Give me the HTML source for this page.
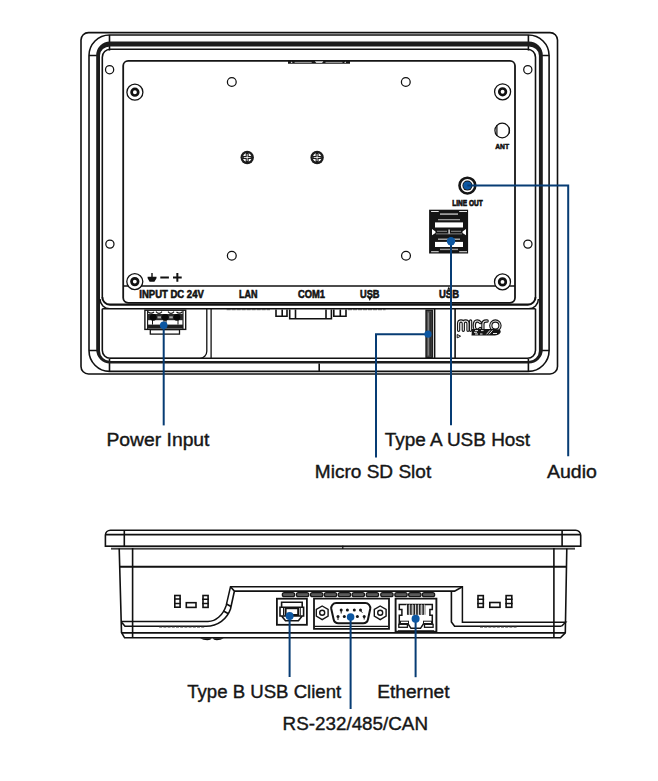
<!DOCTYPE html>
<html><head><meta charset="utf-8"><title>HMI back view</title><style>
html,body{margin:0;padding:0;background:#fff;width:658px;height:781px;overflow:hidden}
svg{display:block}
text{font-family:"Liberation Sans",sans-serif}
.k{fill:none;stroke:#111;stroke-width:1.6}
.kt{fill:none;stroke:#151515;stroke-width:1.8}
.g{fill:none;stroke:#555;stroke-width:1}
.b{fill:none;stroke:#073c74;stroke-width:2}
.bf{fill:#0c57a2}
.lbl{font-size:18.9px;fill:#161616;stroke:#161616;stroke-width:0.4}
.sm{font-weight:bold;fill:#111;stroke:#111;stroke-width:0.55}
</style></head><body>
<svg width="658" height="781" viewBox="0 0 658 781">
<!-- ============ TOP DEVICE ============ -->
<g id="top">
  <!-- outer frame -->
  <rect class="k" x="81" y="32.6" width="476.5" height="341.4" rx="7.5"/>
  <!-- bezel second line -->
  <path class="k" d="M109.5,35 H528.4 A20.7,20.5 0 0 1 549.1,55.5 V350.5 A20.7,20.9 0 0 1 528.4,371.4 H109.5 A20.5,20.9 0 0 1 89,350.5 V55.5 A20.5,20.5 0 0 1 109.5,35 Z"/>
  <path class="k" d="M109.5,35 V50.5 M89,55.5 H97 M528.4,35 V50.5 M549.1,55.5 H541 M89,350.5 H97 M109.5,359 V371.4 M549.1,350.5 H541 M528.4,359 V371.4"/>
  <!-- thick band -->
  <path fill="#1c1c1c" fill-rule="evenodd" d="M110,41.4 H528.8 A14,14 0 0 1 542.8,55.4 V349.6 A14,14 0 0 1 528.8,363.6 H110 A13.8,14 0 0 1 96.2,349.6 V55.4 A13.8,14 0 0 1 110,41.4 Z M110,46.4 A10,9 0 0 0 100,55.4 V351 A10,10 0 0 0 110,361 H528.9 A10,10 0 0 0 538.9,351 V55.4 A10,9 0 0 0 528.9,46.4 Z"/>
  <!-- thin inner line -->
  <path class="k" d="M102.3,297 V57.2 A8,8 0 0 1 110.3,49.2 H527.5 A8,8 0 0 1 535.5,57.2 V297 M535.5,308.8 V350.3 A8,8 0 0 1 527.5,358.3 H110.3 A8,8 0 0 1 102.3,350.3 V308.8"/>
  <path class="k" d="M319.2,363.5 V371.4"/>
  <!-- divider lines -->
  <path class="k" style="stroke-width:2.1" d="M102.3,297 A7.6,7.6 0 0 0 109.9,304.6 H527.9 A7.6,7.6 0 0 0 535.5,297"/>
  <path class="k" style="stroke-width:1.5" d="M100,299 A9.8,9.8 0 0 0 109.8,308.8 H528.6 A9.8,9.8 0 0 0 538.4,299 M102.3,308.8 H109.8 M528.6,308.8 H535.5"/>
  <!-- left compartment divider -->
  <path class="k" style="stroke-width:1.3" d="M206.8,309 V351.3 A7,7 0 0 1 199.8,358.3 H110"/>
  <path class="k" style="stroke-width:1.3" d="M211.1,309 V358.3"/>
  <!-- panel -->
  <rect class="kt" x="123.2" y="60.8" width="391.8" height="242" rx="5"/>
  <path class="k" d="M123.2,286 H515"/>
  <!-- top bracket -->
  <path fill="#151515" d="M288,60.5 H350 V63.8 H288 Z"/>
  <path stroke="#c8c8c8" stroke-width="0.8" d="M294.6,62.4 H311.7 M325.5,62.4 H342.5"/>
  <path fill="#d8d8d8" d="M314.9,61.2 H323.4 L322,63 H316.3 Z"/>
  <path fill="#ddd" d="M290.6,62.9 L291.6,61.5 L292.6,62.9 Z M344.2,62.9 L345.2,61.5 L346.2,62.9 Z"/>
  <!-- holes on bezel -->
  <g fill="none" stroke="#111" stroke-width="1.25">
    <circle cx="109.6" cy="69.7" r="4.1"/>
    <circle cx="527.8" cy="69.7" r="4.1"/>
    <circle cx="109.9" cy="244.1" r="4.1"/>
    <circle cx="527.9" cy="244.1" r="4.1"/>
    <circle cx="231.8" cy="82" r="4.4"/>
    <circle cx="405.8" cy="82" r="4.4"/>
    <circle cx="231.8" cy="255.8" r="4.4"/>
    <circle cx="406" cy="255.8" r="4.4"/>
  </g>
  <!-- corner screws -->
  <g id="scr">
    <circle cx="134.9" cy="92.2" r="8" fill="#fff" stroke="#111" stroke-width="1.3"/>
    <circle cx="134.9" cy="92.2" r="3.3" fill="none" stroke="#111" stroke-width="2.7"/>
  </g>
  <circle cx="502.6" cy="91.8" r="8" fill="#fff" stroke="#111" stroke-width="1.3"/>
  <circle cx="502.6" cy="91.8" r="3.3" fill="none" stroke="#111" stroke-width="2.7"/>
  <circle cx="134.8" cy="281.6" r="8" fill="#fff" stroke="#111" stroke-width="1.3"/>
  <circle cx="134.8" cy="281.6" r="3.3" fill="none" stroke="#111" stroke-width="2.7"/>
  <circle cx="502.5" cy="281.9" r="8" fill="#fff" stroke="#111" stroke-width="1.3"/>
  <circle cx="502.5" cy="281.9" r="3.3" fill="none" stroke="#111" stroke-width="2.7"/>
  <!-- phillips screws -->
  <g id="ph">
    <circle cx="247.2" cy="157.5" r="6.7" fill="#1c1c1c"/>
    <circle cx="247.2" cy="157.5" r="4.4" fill="#fff"/>
    <path fill="#1c1c1c" d="M245.7,152.8 h3 v3.2 h3.2 v3 h-3.2 v3.2 h-3 v-3.2 h-3.2 v-3 h3.2 Z"/>
    <path stroke="#fff" stroke-width="0.8" d="M247.2,154 V161 M243.8,157.5 H250.6"/>
  </g>
  <g>
    <circle cx="317.1" cy="157.5" r="6.7" fill="#1c1c1c"/>
    <circle cx="317.1" cy="157.5" r="4.4" fill="#fff"/>
    <path fill="#1c1c1c" d="M315.6,152.8 h3 v3.2 h3.2 v3 h-3.2 v3.2 h-3 v-3.2 h-3.2 v-3 h3.2 Z"/>
    <path stroke="#fff" stroke-width="0.8" d="M317.1,154 V161 M313.7,157.5 H320.5"/>
  </g>
  <!-- ANT -->
  <circle cx="502.2" cy="130.5" r="7.3" fill="none" stroke="#111" stroke-width="1.25"/>
  <path fill="none" stroke="#111" stroke-width="1.2" d="M496.9,125 V136 M509.3,127.5 V133.5"/>
  <text class="sm" x="495.2" y="149" font-size="7.9" textLength="13.8" lengthAdjust="spacingAndGlyphs">ANT</text>
  <!-- LINE OUT jack -->
  <circle cx="467.4" cy="185.6" r="7.9" fill="none" stroke="#151515" stroke-width="2.6"/>
  <circle cx="467.4" cy="185.6" r="5" fill="#151515"/>
  <circle cx="467.4" cy="185.6" r="4.1" class="bf"/>
  <text class="sm" x="452.3" y="205.5" font-size="8.6" textLength="30.3" lengthAdjust="spacingAndGlyphs" style="stroke-width:0.7">LINE OUT</text>
  <!-- USB A ports -->
  <rect x="429.1" y="209.7" width="39" height="43.8" fill="#151515"/>
  <g fill="#fff">
    <rect x="435" y="222.4" width="28" height="5.1"/>
    <rect x="435" y="241.9" width="28" height="5.1"/>
    <rect x="431.1" y="211" width="7.6" height="0.9"/>
    <rect x="459.2" y="211" width="7.8" height="0.9"/>
    <rect x="431.1" y="251.3" width="7.6" height="0.9"/>
    <rect x="459.2" y="251.3" width="7.8" height="0.9"/>
    <rect x="438" y="238.7" width="22" height="0.9"/>
    <path d="M432,229 L435.5,231.5 V233 L432,235.3 Z M466,229 L462.5,231.5 V233 L466,235.3 Z"/>
    <rect x="448.5" y="229.5" width="1.2" height="4.5"/>
  </g>
  <g fill="#9a9a9a">
    <rect x="440" y="213.2" width="18" height="1.8"/>
    <rect x="438" y="219" width="22" height="1.3"/>
    <rect x="440" y="248.7" width="18" height="1.4"/>
    <rect x="437" y="230.8" width="10" height="0.9"/>
    <rect x="451" y="230.8" width="10" height="0.9"/>
    <rect x="436" y="233.5" width="26" height="0.8"/>
  </g>
  <!-- panel labels -->
  <path fill="#111" d="M151.3,273 H152.7 V276.7 H156.5 V278.3 L154.4,281.8 H149.6 L147.6,278.3 V276.7 H151.3 Z"/>
  <path stroke="#111" stroke-width="2" d="M160.3,277.6 H168.9 M173,277.6 H181.7 M177.35,273.1 V281.8"/>
  <text class="sm" x="139.3" y="297.9" font-size="10.2" textLength="64.5" lengthAdjust="spacingAndGlyphs">INPUT DC 24V</text>
  <text class="sm" x="238.9" y="297.9" font-size="10.2" textLength="18.5" lengthAdjust="spacingAndGlyphs">LAN</text>
  <text class="sm" x="298" y="297.9" font-size="10.2" textLength="27" lengthAdjust="spacingAndGlyphs">COM1</text>
  <text class="sm" x="360" y="297.9" font-size="10.2" textLength="19.5" lengthAdjust="spacingAndGlyphs">USB</text>
  <path fill="#111" d="M368,297.3 h3.6 l-1.8,3.8 Z"/>
  <text class="sm" x="439" y="297.9" font-size="10.2" textLength="20" lengthAdjust="spacingAndGlyphs">USB</text>
  <path fill="#111" d="M447.2,289.8 h3.2 l-1.6,-3.4 Z"/>
  <!-- terminal block -->
  <rect x="144.9" y="310.2" width="40.8" height="19.2" fill="#fff" stroke="#151515" stroke-width="1.4"/>
  <rect x="150.3" y="329.7" width="29.2" height="4.4" fill="#fff" stroke="#151515" stroke-width="1.3"/>
  <path fill="none" stroke="#151515" stroke-width="1.1" d="M147.6,310.5 V329 M183,310.5 V329"/>
  <path fill="none" stroke="#151515" stroke-width="1.2" d="M148,311.8 Q151,314.5 154,312 M156,311.6 Q159,315 162,311.6 M168,311.6 Q171,315 174,311.6 M176.5,312 Q179.5,314.5 182.5,311.8"/>
  <rect x="147.6" y="314" width="35.4" height="6.2" fill="#2a2a2a"/>
  <g fill="#aaa"><rect x="157.5" y="316.3" width="3.5" height="2"/><rect x="169.3" y="316.3" width="3.5" height="2"/></g>
  <rect x="147.6" y="324.6" width="35.4" height="4" fill="#1e1e1e"/>
  <path fill="none" stroke="#151515" stroke-width="1" d="M152.5,320 V324.6 M164,320 V324.6 M166,320 V324.6 M178,320 V324.6"/>
  <circle cx="153.2" cy="317.3" r="3.4" fill="#080808"/>
  <circle cx="165.2" cy="317.3" r="3.4" fill="#080808"/>
  <circle cx="176.9" cy="317.3" r="3.4" fill="#080808"/>
  <path stroke="#333" stroke-width="0.7" stroke-dasharray="4 1" d="M226.7,309.7 H270 M348,309.7 H385.6"/>
  <!-- DB9 (top view) -->
  <path class="k" d="M276,309.4 V316.3 H287 V309.4 M282.2,309.4 V316.3 M289.7,309.4 V318.7 H331.4 V309.4 M295.5,309.4 V318.7 M326,309.4 V318.7 M333.8,309.4 V316.3 H346 V309.4 M340.3,309.4 V316.3"/>
  <!-- SD slot -->
  <rect x="426" y="310.2" width="6.3" height="47.3" fill="#4a4a4a" stroke="#151515" stroke-width="1.3"/>
  <path stroke="#9a9a9a" stroke-width="0.8" d="M428.3,312.5 V355.5"/>
  <path stroke="#222" stroke-width="0.9" d="M430.3,312 V356"/>
  <path class="k" d="M434.6,309 V358 M455.1,309 V358"/>
  
  <!-- right compartment corner -->
  
  <!-- micro SD logo -->
  <circle cx="495.4" cy="325.6" r="4.6" fill="none" stroke="#151515" stroke-width="3.3"/><circle cx="495.4" cy="325.6" r="4.6" fill="none" stroke="#eee" stroke-width="1.1"/>
  <path fill="none" stroke="#151515" stroke-width="3.3" stroke-linecap="round" d="M458.6,330.3 V323.6 Q458.6,321 461,321 Q463.3,321 463.3,323.6 V330.3 M463.3,323.6 Q463.3,321 465.6,321 Q468,321 468,323.6 V330.3 M470.6,330.3 V321 M480.2,322.6 Q479,321 477.2,321 Q474.3,321 474.3,325.6 Q474.3,330.2 477.2,330.2 Q479,330.2 480.2,328.6 M482.9,330.3 V324 Q482.9,321 486.2,321 H487.2"/>
  <path fill="none" stroke="#eee" stroke-width="1.1" stroke-linecap="round" d="M458.6,330.3 V323.6 Q458.6,321 461,321 Q463.3,321 463.3,323.6 V330.3 M463.3,323.6 Q463.3,321 465.6,321 Q468,321 468,323.6 V330.3 M470.6,330.3 V321 M480.2,322.6 Q479,321 477.2,321 Q474.3,321 474.3,325.6 Q474.3,330.2 477.2,330.2 Q479,330.2 480.2,328.6 M482.9,330.3 V324 Q482.9,321 486.2,321 H487.2"/>
  <path fill="#151515" d="M472,329 H494 C499,329 501.5,330 500.5,332.5 C499.5,335 496,335.5 492,335.5 H471.5 Z"/>
  <path stroke="#fff" stroke-width="0.9" fill="none" d="M475,330.6 h3 M474,332.3 h3 M475,334 h3 M481,330.6 h2.5 M480,334 h2.5 M486.5,334.3 L490,330.3 M489,334.3 L492.5,330.3 M493,333.5 h4"/>
  <path fill="#fff" stroke="#151515" stroke-width="1" d="M457.2,334.5 L460.6,336.2 L457.2,337.9 Z"/>
</g>

<!-- ============ BOTTOM DEVICE ============ -->
<g id="bottom">
  <!-- bezel -->
  <path class="k" d="M105.4,546.3 V535 A5,5 0 0 1 110.4,530.3 H575.7 A5,5 0 0 1 580.7,535.3 V546.3 Z"/>
  <path class="k" d="M124.3,530 V546.5 M562.1,530 V546.5 M105.4,534.6 H580.7"/>
  <path fill="#c8c8c8" d="M111,547 H575 V548.4 H111 Z"/>
  <path class="k" style="stroke-width:1.2" d="M106,546.3 H580 M111,548.9 H575 M342.8,545.5 V549.5"/>
  <!-- body -->
  <path class="k" d="M119.2,548.5 L121.5,632.5 L124.6,637.8 H560.5 L565.3,632.8 L566.8,548.5"/>
  <path fill="#111" d="M200,638.2 C204,640.6 211,641 211.5,638.2 Z M212.8,638.2 C213.5,641 220,640.6 223.7,638.2 Z"/>
  <path class="k" d="M132.6,548 V638 M553.9,548 V638"/>
  <path class="k" style="stroke-width:1.9" d="M119.8,566.8 H566"/>
  <path class="k" style="stroke-width:1.7" d="M121.8,632.8 H565"/>
  <!-- lower contour lines -->
  <path class="k" style="stroke-width:1.5" d="M121.5,621.5 H208 C216,621.5 223,615 226.2,605.4 L230.5,586.8 H462.4 V622.2 H565.6 L561.5,626.2"/>
  <path class="k" d="M121.8,622.5 L125,626.2 H206.1 C218,626.2 227,619 230.5,609 L234.4,591.1 H454.6 L462.4,586.8 M230.5,586.8 L234.4,591.1 M226.5,604 L231,606.5 M223.5,611 L228,613.5"/>
  <path class="k" d="M451.4,591.1 V622 L454.6,626.2 H561.5"/>
  <path stroke="#333" stroke-width="1" stroke-dasharray="3 1.2" d="M480,627 H516.6 M159.2,627 H205"/>
  <!-- vents -->
  <rect x="174.8" y="595.5" width="5.3" height="11.7" fill="#fff" stroke="#111" stroke-width="1.6"/><path stroke="#111" stroke-width="1.5" d="M174.0,599.1 H180.9 M174.0,603.5 H180.9"/>
  <rect x="186.3" y="602.7" width="9.7" height="4.7" fill="#fff" stroke="#111" stroke-width="1.6"/>
  <rect x="203.0" y="595.5" width="5.1" height="11.9" fill="#fff" stroke="#111" stroke-width="1.6"/><path stroke="#111" stroke-width="1.5" d="M202.2,599.2 H208.9 M202.2,603.6 H208.9"/>
  <rect x="478.0" y="595.6" width="5.3" height="11.7" fill="#fff" stroke="#111" stroke-width="1.6"/><path stroke="#111" stroke-width="1.5" d="M477.2,599.2 H484.1 M477.2,603.6 H484.1"/>
  <rect x="489.8" y="602.5" width="10.2" height="4.8" fill="#fff" stroke="#111" stroke-width="1.6"/>
  <rect x="506.1" y="595.6" width="5.7" height="11.7" fill="#fff" stroke="#111" stroke-width="1.6"/><path stroke="#111" stroke-width="1.5" d="M505.3,599.2 H512.6 M505.3,603.6 H512.6"/>
  <!-- label plates -->
  <g fill="#5a5a5a" stroke="#151515" stroke-width="1.2">
    <rect x="282.3" y="592.6" width="12.4" height="4.1" rx="2"/>
    <rect x="296.4" y="592.6" width="12.4" height="4.1" rx="2"/>
    <rect x="310.5" y="592.6" width="12.4" height="4.1" rx="2"/>
    <rect x="324.3" y="592.6" width="12.4" height="4.1" rx="2"/>
    <rect x="338.2" y="592.6" width="12.4" height="4.1" rx="2"/>
    <rect x="352.1" y="592.6" width="12.4" height="4.1" rx="2"/>
    <rect x="366.2" y="592.6" width="12.4" height="4.1" rx="2"/>
    <rect x="380.7" y="592.6" width="12.4" height="4.1" rx="2"/>
    <rect x="394.8" y="592.6" width="12.4" height="4.1" rx="2"/>
    <rect x="408.6" y="592.6" width="12.4" height="4.1" rx="2"/>
    <rect x="422.3" y="592.6" width="12.4" height="4.1" rx="2"/>
  </g>
  <!-- USB B -->
  <rect x="276.9" y="598.7" width="30" height="26.1" fill="none" stroke="#151515" stroke-width="1.8"/>
  <path fill="none" stroke="#151515" stroke-width="1.6" d="M281.6,607.2 V602.2 H302.2 V607.2 M280,607.2 H303.6 V616 H280 Z M281.6,616 L285.5,620.8 H298.4 L302.2,616"/>
  <rect x="285.6" y="608.2" width="12.6" height="6.8" fill="none" stroke="#151515" stroke-width="2"/>
  <path fill="none" stroke="#151515" stroke-width="1" d="M283.5,607.5 V615.5 M300.3,607.5 V615.5"/>
  <!-- DB9 box -->
  <path fill="none" stroke="#151515" stroke-width="1.8" d="M314,598.7 H389 V628.8 H314 Z"/>
  <path fill="none" stroke="#151515" stroke-width="1.2" d="M314.5,626.3 H388.5"/>
  <path fill="none" stroke="#151515" stroke-width="2" d="M336.3,603.1 H365.3 A5,5 0 0 1 370.2,609 L368,619.3 A5,5 0 0 1 363.2,623.3 H338.4 A5,5 0 0 1 333.6,619.3 L331.3,609 A5,5 0 0 1 336.3,603.1 Z"/>
  <g fill="#151515">
    <circle cx="341.2" cy="610" r="1.5"/><circle cx="347.4" cy="610" r="1.5"/><circle cx="354.3" cy="610" r="1.5"/><circle cx="360.5" cy="610" r="1.5"/>
    <circle cx="338" cy="616.4" r="1.5"/><circle cx="344.3" cy="616.4" r="1.5"/><circle cx="357.4" cy="616.4" r="1.5"/><circle cx="364.2" cy="616.4" r="1.5"/>
  </g>
  <path fill="none" stroke="#151515" stroke-width="1" d="M341.2,611 V613.5 M338,617.4 V620 M360.5,611 L362.5,612.5 M364.2,617.4 V619.5"/>
  <path fill="none" stroke="#151515" stroke-width="1.4" d="M322.2,606 L328.1,609.4 V616.2 L322.2,619.6 L316.3,616.2 V609.4 Z M380.2,606 L386.1,609.4 V616.2 L380.2,619.6 L374.3,616.2 V609.4 Z"/>
  <circle cx="322.2" cy="612.8" r="2.5" fill="none" stroke="#151515" stroke-width="1.4"/>
  <circle cx="380.2" cy="612.8" r="2.5" fill="none" stroke="#151515" stroke-width="1.4"/>
  <!-- RJ45 -->
  <path fill="none" stroke="#151515" stroke-width="1.9" d="M395.6,598.6 H436.4 V631.8 H395.6 Z"/>
  <path fill="none" stroke="#151515" stroke-width="1.5" d="M399.3,604.6 H432.3 V609.6 H429.9 V615.2 H432.3 V623.8 H423.5 L420.5,628.3 H411 L408,623.8 H399.3 V615.2 H401.9 V609.6 H399.3 Z"/>
  <rect x="406.8" y="604.6" width="18.5" height="10.2" fill="#222"/>
  <path stroke="#bbb" stroke-width="0.6" d="M408.9,605 V614.5 M411.2,605 V614.5 M413.5,605 V614.5 M415.8,605 V614.5 M418.1,605 V614.5 M420.4,605 V614.5 M422.7,605 V614.5"/>
  <rect x="398.8" y="624.3" width="8.6" height="3" fill="#fff" stroke="#151515" stroke-width="1.3"/>
  <rect x="424.5" y="624.3" width="8.6" height="3" fill="#fff" stroke="#151515" stroke-width="1.3"/>
  <path stroke="#333" stroke-width="0.9" d="M398,630.5 H434"/>
</g>
  <path stroke="#fff" stroke-width="0.7" d="M406.5,604.5 V616 M409.5,604.5 V616 M412.5,604.5 V616 M415.5,604.5 V616 M418.5,604.5 V616 M421.5,604.5 V616 M424.5,604.5 V616"/>
  <rect x="400.5" y="621.2" width="8" height="3" fill="none" stroke="#1c1c1c" stroke-width="1"/>
  <rect x="423.5" y="621.2" width="8" height="3" fill="none" stroke="#1c1c1c" stroke-width="1"/>
</g>

<!-- ============ CALLOUTS ============ -->
<g id="callouts">
  <path class="b" d="M163.7,325.3 V425.4"/>
  <circle cx="163.7" cy="325.3" r="3.8" class="bf"/>
  <path class="b" d="M428,334.2 H376 V457.5"/>
  <circle cx="428" cy="334.2" r="3.6" class="bf"/>
  <path class="b" d="M451,241.3 V425.2"/>
  <circle cx="451" cy="241.3" r="4.2" class="bf"/>
  <path class="b" d="M467.4,185.6 H568.2 V456.3"/>
  <path class="b" d="M289.6,616.1 V677"/>
  <circle cx="289.6" cy="616.1" r="4" class="bf"/>
  <path class="b" d="M350.6,617 V709"/>
  <circle cx="350.6" cy="617" r="3.8" class="bf"/>
  <path class="b" d="M415.6,618.7 V677.2"/>
  <circle cx="415.6" cy="618.7" r="4" class="bf"/>
</g>

<!-- ============ LABELS ============ -->
<g class="lbl">
  <text x="106.4" y="445.6" textLength="103.1" lengthAdjust="spacingAndGlyphs">Power Input</text>
  <text x="384.8" y="445.9" textLength="145.3" lengthAdjust="spacingAndGlyphs">Type A USB Host</text>
  <text x="314.8" y="477.7" textLength="116.4" lengthAdjust="spacingAndGlyphs">Micro SD Slot</text>
  <text x="547.0" y="477.7" textLength="49.9" lengthAdjust="spacingAndGlyphs">Audio</text>
  <text x="187.2" y="697.9" textLength="154.0" lengthAdjust="spacingAndGlyphs">Type B USB Client</text>
  <text x="377.2" y="697.9" textLength="72.3" lengthAdjust="spacingAndGlyphs">Ethernet</text>
  <text x="282.6" y="729.8" textLength="145.4" lengthAdjust="spacingAndGlyphs">RS-232/485/CAN</text>
</g>
</svg>
</body></html>
